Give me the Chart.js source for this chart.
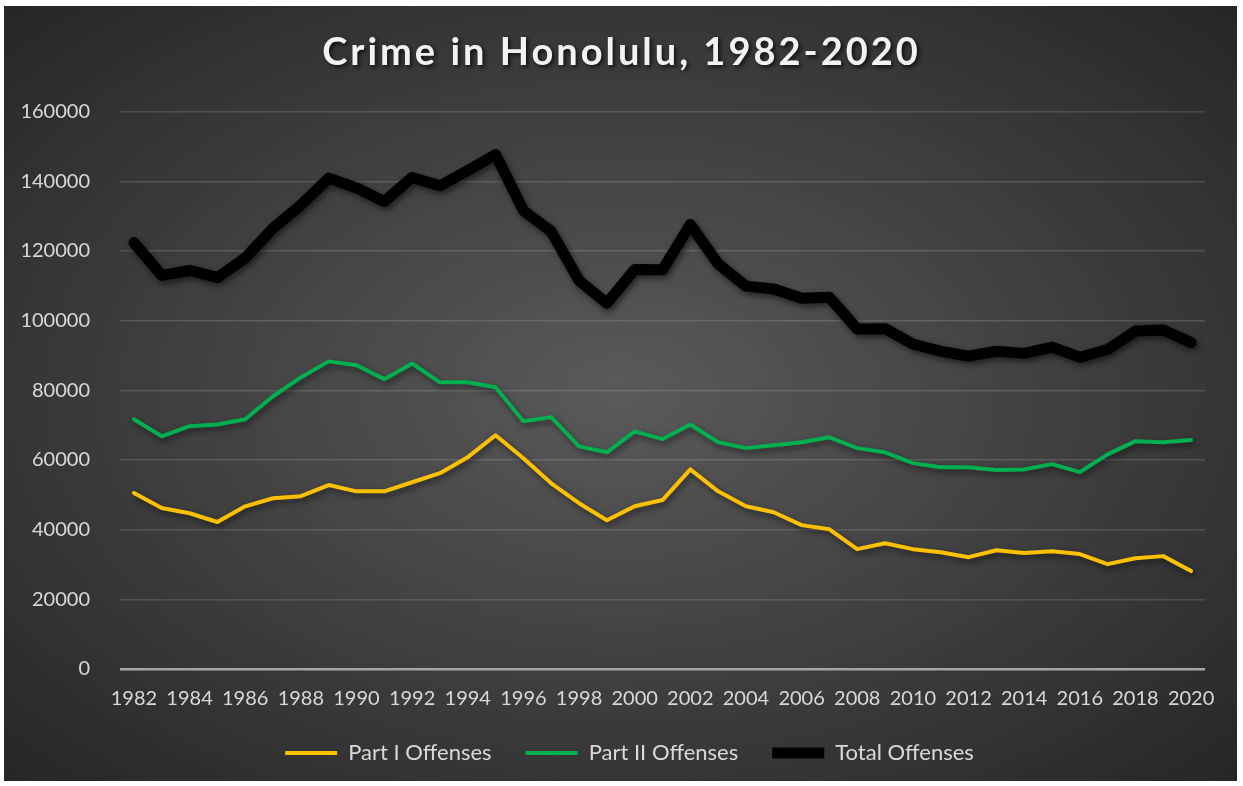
<!DOCTYPE html>
<html>
<head>
<meta charset="utf-8">
<script src="https://cdn.jsdelivr.net/npm/chart.js@4.4.0/dist/chart.umd.min.js"></script>
<style>
  html, body { margin: 0; padding: 0; background: #fff; }
  #wrap {
    position: absolute; left: 4px; top: 6px; width: 1233px; height: 775px;
    background: radial-gradient(ellipse farthest-corner at 50% 50%, #5a5a5a 0%, #262626 100%);
  }
</style>
</head>
<body>
<div id="wrap"><canvas id="crimeChart"></canvas></div>
<script>
  var years = [];
  for (var y = 1982; y <= 2020; y++) years.push(String(y));

  var partOne = [50500, 46200, 44700, 42200, 46700, 49000, 49600, 52800, 51000, 51000,
    53600, 56200, 60800, 67100, 60500, 53300, 47600, 42700, 46700, 48500,
    57300, 51000, 46700, 45000, 41300, 40100, 34400, 36100, 34400, 33500,
    32100, 34100, 33300, 33800, 33000, 30100, 31800, 32400, 28100];

  var partTwo = [71700, 66800, 69700, 70200, 71700, 78300, 83700, 88300, 87200, 83200,
    87700, 82300, 82300, 80900, 71100, 72300, 63900, 62200, 68200, 66000,
    70200, 65100, 63400, 64200, 65100, 66500, 63400, 62200, 59100, 57900,
    57900, 57100, 57300, 58800, 56500, 61600, 65400, 65100, 65700];

  var totalOffenses = [122400, 113000, 114400, 112400, 118000, 126500, 133200, 140900, 138100, 134200,
    141100, 138700, 143100, 147700, 131600, 125600, 111500, 105000, 114700, 114600,
    127600, 116300, 109900, 109100, 106400, 106700, 97600, 97700, 93300, 91200,
    89800, 91200, 90600, 92400, 89500, 91700, 97000, 97300, 93700];

  var tickColor = '#d9d9d9';
  var tickFont = { family: 'Lato, "Open Sans", sans-serif', size: 20 };
  var legendFont = { family: 'Lato, "Open Sans", sans-serif', size: 22 };
  var legendGap = 34;      // horizontal space between legend entries
  var legendHeight = 55;   // height kept for the legend row
  var legendTop = 21;      // space above the legend text
  var legendShift = 18;    // legend row sits a little right of centre

  // drop shadow under the series lines and the title,
  // plus a legend that is wide-spaced but not tall
  var chartTweaks = {
    id: 'chartTweaks',
    afterInit: function(chart) {
      var t = chart.titleBlock;
      if (t) {
        var drawTitle = t.draw.bind(t);
        t.draw = function() {
          var ctx = chart.ctx;
          ctx.save();
          ctx.translate(10, 0);
          ctx.letterSpacing = '3px';
          ctx.shadowColor = 'rgba(0,0,0,0.75)';
          ctx.shadowBlur = 4;
          ctx.shadowOffsetX = 2;
          ctx.shadowOffsetY = 2;
          drawTitle();
          ctx.restore();
        };
      }
      var lg = chart.legend;
      if (lg) {
        var fitLegend = lg.fit.bind(lg);
        lg.fit = function() {
          fitLegend();
          this.height = legendHeight;
        };
        var drawItems = lg._draw.bind(lg);
        lg._draw = function() {
          var ctx = chart.ctx;
          ctx.save();
          ctx.translate(legendShift, legendTop - legendGap);
          drawItems();
          ctx.restore();
        };
      }
    },
    beforeDatasetsDraw: function(chart) {
      var ctx = chart.ctx;
      ctx.save();
      ctx.shadowColor = 'rgba(0,0,0,0.55)';
      ctx.shadowBlur = 6;
      ctx.shadowOffsetX = 2;
      ctx.shadowOffsetY = 3;
    },
    afterDatasetsDraw: function(chart) {
      chart.ctx.restore();
    }
  };

  function lineSet(label, values, color, width) {
    return {
      label: label,
      data: values,
      borderColor: color,
      backgroundColor: color,
      borderWidth: width,
      pointRadius: 0,
      borderCapStyle: 'round',
      borderJoinStyle: 'round',
      tension: 0
    };
  }

  new Chart(document.getElementById('crimeChart'), {
    type: 'line',
    data: {
      labels: years,
      datasets: [
        lineSet('Part I Offenses', partOne, '#ffc000', 4),
        lineSet('Part II Offenses', partTwo, '#00b050', 4),
        lineSet('Total Offenses', totalOffenses, '#000000', 11)
      ]
    },
    options: {
      responsive: true,
      maintainAspectRatio: false,
      animation: false,
      layout: { padding: { left: 14, right: 32, top: 16, bottom: 5 } },
      plugins: {
        title: {
          display: true,
          text: 'Crime in Honolulu, 1982-2020',
          color: '#f2f2f2',
          font: { family: 'Lato, "Open Sans", sans-serif', size: 38, weight: 'bold' },
          padding: { top: 8, bottom: 36 }
        },
        legend: {
          position: 'bottom',
          labels: {
            color: tickColor,
            font: legendFont,
            usePointStyle: true,
            pointStyleWidth: 52,
            pointStyle: 'line',
            padding: legendGap
          }
        },
        tooltip: { enabled: false }
      },
      scales: {
        x: {
          offset: true,
          grid: { display: false },
          border: { display: false },
          ticks: {
            color: tickColor,
            font: tickFont,
            autoSkip: false,
            maxRotation: 0,
            padding: 10,
            callback: function(val, idx) {
              return idx % 2 === 0 ? this.getLabelForValue(val) : '';
            }
          }
        },
        y: {
          min: 0,
          max: 160000,
          border: { display: false },
          afterFit: function(scale) { scale.width = 102; },
          grid: {
            drawTicks: false,
            color: function(c) { return c.tick && c.tick.value === 0 ? '#a6a6a6' : 'rgba(255,255,255,0.14)'; },
            lineWidth: function(c) { return c.tick && c.tick.value === 0 ? 2.5 : 1.5; }
          },
          ticks: {
            stepSize: 20000,
            color: tickColor,
            font: tickFont,
            padding: 30,
            callback: function(v) { return String(v); }
          }
        }
      }
    },
    plugins: [chartTweaks]
  });
</script>
</body>
</html>
